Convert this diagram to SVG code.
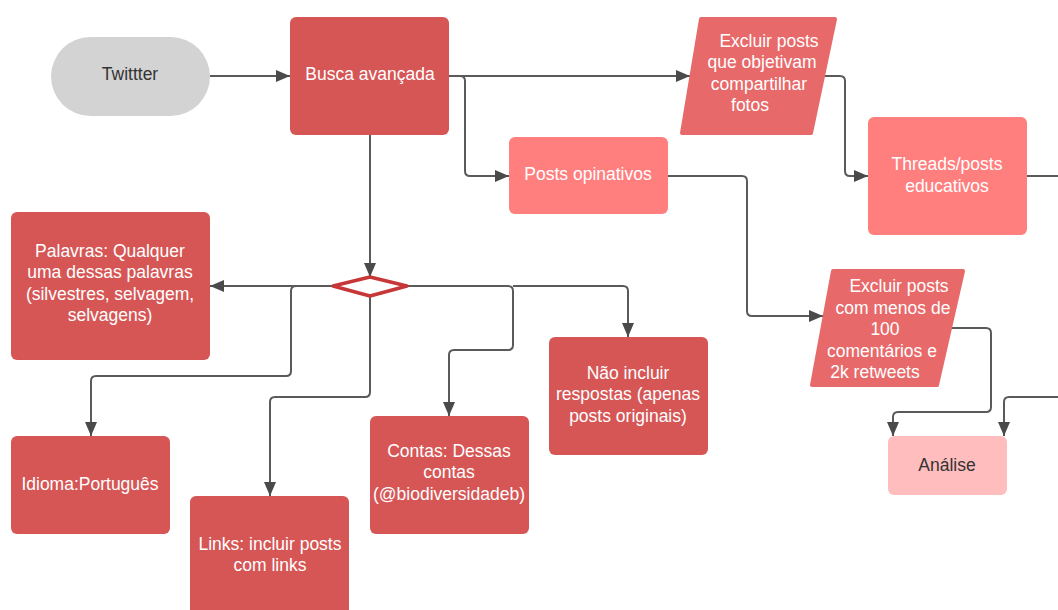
<svg xmlns="http://www.w3.org/2000/svg" width="1058" height="610" viewBox="0 0 1058 610">
<style>
text{font-family:"Liberation Sans",Arial,sans-serif;font-size:17.5px;text-anchor:middle;fill:#ffffff}
.dark{fill:#333333}
.red{fill:#d65656}
.par{fill:#e8696a;stroke:#e8696a;stroke-width:4;stroke-linejoin:round}
.light{fill:#ff7f7f}
.conn path{fill:none;stroke:#5a5a5a;stroke-width:2}
</style>
<defs>
<marker id="ah" markerWidth="14" markerHeight="12" refX="14" refY="6" orient="auto" markerUnits="userSpaceOnUse">
<path d="M0 0 L14 6 L0 12 Z" fill="#4a4a4a"/>
</marker>
</defs>
<rect width="1058" height="610" fill="#ffffff"/>
<g class="conn">
<path d="M210 76 H290" marker-end="url(#ah)"/>
<path d="M449 76 H690" marker-end="url(#ah)"/>
<path d="M449 76 H460 Q465 76 465 81 V171 Q465 176 470 176 H509" marker-end="url(#ah)"/>
<path d="M824 76 H840 Q845 76 845 81 V171 Q845 176 850 176 H868" marker-end="url(#ah)"/>
<path d="M1027 176 H1058"/>
<path d="M668 176 H742 Q747 176 747 181 V311 Q747 316 752 316 H823" marker-end="url(#ah)"/>
<path d="M951 328 H986 Q991 328 991 333 V407 Q991 412 986 412 H898 Q893 412 893 417 V436" marker-end="url(#ah)"/>
<path d="M1058 397 H1009 Q1004 397 1004 402 V436" marker-end="url(#ah)"/>
<path d="M370 135 V277" marker-end="url(#ah)"/>
<path d="M333 286 H210" marker-end="url(#ah)"/>
<path d="M296 286 Q291 286 291 291 V371 Q291 376 286 376 H96 Q91 376 91 381 V436" marker-end="url(#ah)"/>
<path d="M370 296 V392 Q370 397 365 397 H275 Q270 397 270 402 V496" marker-end="url(#ah)"/>
<path d="M407 286 H508 Q513 286 513 291 V345 Q513 350 508 350 H454 Q449 350 449 355 V416" marker-end="url(#ah)"/>
<path d="M513 286 H623 Q628 286 628 291 V337" marker-end="url(#ah)"/>
</g>
<g id="twitter">
<rect x="51" y="37" width="159" height="79" rx="39.5" fill="#d3d3d3"/>
<text class="dark" x="130" y="80">Twittter</text>
</g>
<g id="busca">
<rect class="red" x="290" y="17" width="159" height="118" rx="6"/>
<text x="370" y="80">Busca avançada</text>
</g>
<g id="excluir1">
<polygon class="par" points="701,19 835,19 811,133 682,133"/>
<text x="769" y="47">Excluir posts</text>
<text x="762" y="68">que objetivam</text>
<text x="759" y="90">compartilhar</text>
<text x="750" y="111">fotos</text>
</g>
<g id="posts-opinativos">
<rect class="light" x="509" y="137" width="159" height="77" rx="6"/>
<text x="588" y="180">Posts opinativos</text>
</g>
<g id="threads">
<rect class="light" x="868" y="117" width="159" height="118" rx="6"/>
<text x="947" y="170">Threads/posts</text>
<text x="947" y="192">educativos</text>
</g>
<g id="excluir2">
<polygon class="par" points="833,271 963,271 937,385 812,385"/>
<text x="899" y="292">Excluir posts</text>
<text x="893" y="314">com menos de</text>
<text x="885" y="335">100</text>
<text x="882" y="357">comentários e</text>
<text x="875" y="378">2k retweets</text>
</g>
<g id="analise">
<rect x="888" y="436" width="119" height="59" rx="6" fill="#ffbdbd"/>
<text class="dark" x="947" y="471">Análise</text>
</g>
<g id="decisao">
<polygon points="333,286 370,277 407,286 370,296" fill="#ffffff" stroke="#c83737" stroke-width="3.5" stroke-linejoin="round"/>
</g>
<g id="palavras">
<rect class="red" x="11" y="212" width="199" height="148" rx="6"/>
<text x="110" y="257">Palavras: Qualquer</text>
<text x="110" y="278">uma dessas palavras</text>
<text x="110" y="300">(silvestres, selvagem,</text>
<text x="110" y="321">selvagens)</text>
</g>
<g id="idioma">
<rect class="red" x="11" y="436" width="159" height="98" rx="6"/>
<text x="90" y="490">Idioma:Português</text>
</g>
<g id="links">
<rect class="red" x="190" y="496" width="159" height="130" rx="6"/>
<text x="270" y="550">Links: incluir posts</text>
<text x="270" y="571">com links</text>
</g>
<g id="contas">
<rect class="red" x="370" y="416" width="159" height="118" rx="6"/>
<text x="449" y="457">Contas: Dessas</text>
<text x="449" y="478">contas</text>
<text x="449" y="500">(@biodiversidadeb)</text>
</g>
<g id="nao-incluir">
<rect class="red" x="549" y="337" width="159" height="118" rx="6"/>
<text x="628" y="379">Não incluir</text>
<text x="628" y="400">respostas (apenas</text>
<text x="628" y="422">posts originais)</text>
</g>
</svg>
